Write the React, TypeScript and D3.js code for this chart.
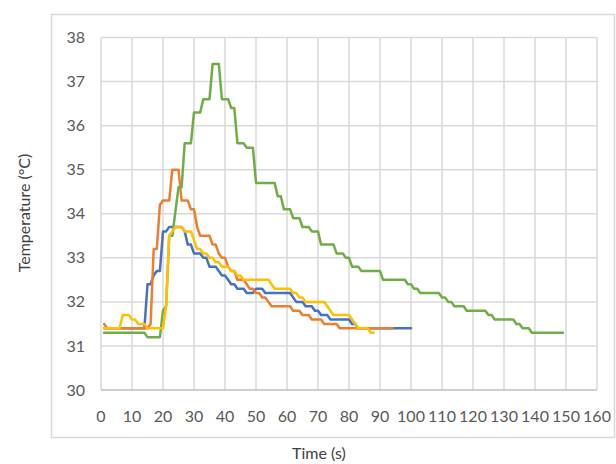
import React from "react";
import * as d3 from "d3";

type Pt = [number, number];

const xTicks = [0, 10, 20, 30, 40, 50, 60, 70, 80, 90, 100, 110, 120, 130, 140, 150, 160];
const yTicks = [30, 31, 32, 33, 34, 35, 36, 37, 38];

const blueSeries: Pt[] = [
  [1, 31.4], [14, 31.4], [15, 32.4], [16, 32.4], [17, 32.6], [18, 32.7], [19, 32.7], [20, 33.6], [21, 33.6],
  [22, 33.7], [26, 33.7], [27, 33.6], [28, 33.3], [29, 33.3], [30, 33.1], [32, 33.1], [33, 33.0], [34, 33.0],
  [35, 32.8], [37, 32.8], [38, 32.7], [39, 32.6], [40, 32.6], [41, 32.5], [42, 32.4], [43, 32.4], [44, 32.3],
  [46, 32.3], [47, 32.2], [49, 32.2], [50, 32.3], [52, 32.3], [53, 32.2], [61, 32.2], [62, 32.1], [63, 32.0],
  [65, 32.0], [66, 31.9], [68, 31.9], [69, 31.8], [70, 31.8], [71, 31.7], [73, 31.7], [74, 31.6], [80, 31.6],
  [81, 31.5], [82, 31.5], [83, 31.4], [100, 31.4],
];

const orangeSeries: Pt[] = [
  [1, 31.5], [2, 31.4], [15, 31.4], [16, 31.5], [17, 33.2], [18, 33.2], [19, 34.2], [20, 34.3], [22, 34.3],
  [23, 35.0], [25, 35.0], [26, 34.3], [28, 34.3], [29, 34.1], [30, 34.1], [31, 33.7], [32, 33.5], [35, 33.5],
  [36, 33.3], [37, 33.3], [38, 33.1], [39, 33.0], [40, 33.0], [41, 32.8], [42, 32.7], [43, 32.7], [44, 32.5],
  [46, 32.5], [47, 32.4], [48, 32.3], [49, 32.3], [50, 32.2], [51, 32.2], [52, 32.1], [53, 32.1], [54, 32.0],
  [55, 31.9], [61, 31.9], [62, 31.8], [64, 31.8], [65, 31.7], [67, 31.7], [68, 31.6], [71, 31.6], [72, 31.5],
  [76, 31.5], [77, 31.4], [94, 31.4],
];

const greenSeries: Pt[] = [
  [1, 31.3], [14, 31.3], [15, 31.2], [19, 31.2], [20, 31.8], [21, 31.9], [22, 33.5], [23, 33.5], [25, 34.6],
  [26, 34.6], [27, 35.6], [29, 35.6], [30, 36.3], [32, 36.3], [33, 36.6], [35, 36.6], [36, 37.4], [38, 37.4],
  [39, 36.6], [41, 36.6], [42, 36.4], [43, 36.4], [44, 35.6], [46, 35.6], [47, 35.5], [49, 35.5], [50, 34.7],
  [56, 34.7], [57, 34.4], [58, 34.4], [59, 34.1], [61, 34.1], [62, 33.9], [64, 33.9], [65, 33.7], [67, 33.7],
  [68, 33.6], [70, 33.6], [71, 33.3], [75, 33.3], [76, 33.1], [78, 33.1], [79, 33.0], [80, 33.0], [81, 32.8],
  [83, 32.8], [84, 32.7], [90, 32.7], [91, 32.5], [98, 32.5], [99, 32.4], [100, 32.4], [101, 32.3], [102, 32.3],
  [103, 32.2], [109, 32.2], [110, 32.1], [111, 32.1], [112, 32.0], [113, 32.0], [114, 31.9], [117, 31.9],
  [118, 31.8], [124, 31.8], [125, 31.7], [126, 31.7], [127, 31.6], [133, 31.6], [134, 31.5], [135, 31.5],
  [136, 31.4], [138, 31.4], [139, 31.3], [149, 31.3],
];

const yellowSeries: Pt[] = [
  [1, 31.4], [6, 31.4], [7, 31.7], [9, 31.7], [10, 31.6], [11, 31.6], [12, 31.5], [14, 31.5], [15, 31.4],
  [20, 31.4], [21, 31.9], [22, 33.5], [23, 33.6], [24, 33.7], [26, 33.7], [27, 33.6], [29, 33.6], [30, 33.4],
  [31, 33.2], [32, 33.2], [33, 33.1], [34, 33.1], [35, 33.0], [36, 33.0], [37, 32.9], [38, 32.9], [39, 32.8],
  [41, 32.8], [42, 32.7], [43, 32.7], [44, 32.6], [45, 32.6], [46, 32.5], [54, 32.5], [55, 32.4], [56, 32.3],
  [61, 32.3], [62, 32.2], [63, 32.2], [64, 32.1], [65, 32.1], [66, 32.0], [72, 32.0], [73, 31.9], [74, 31.8],
  [75, 31.7], [80, 31.7], [81, 31.6], [82, 31.5], [83, 31.4], [86, 31.4], [87, 31.3], [88, 31.3],
];

const seriesList = [
  { name: "blue", data: blueSeries, color: "#4472C4" },
  { name: "orange", data: orangeSeries, color: "#ED7D31" },
  { name: "green", data: greenSeries, color: "#70AD47" },
  { name: "yellow", data: yellowSeries, color: "#FFC000" },
];

export default function App() {
  const W = 616;
  const H = 464;
  const x = d3.scaleLinear().domain([0, 160]).range([101, 597]);
  const y = d3.scaleLinear().domain([30, 38]).range([390, 37.5]);
  const line = d3
    .line<Pt>()
    .x((d) => x(d[0]))
    .y((d) => y(d[1]))
    .curve(d3.curveLinear);
  const font = "Lato, 'Open Sans', sans-serif";

  return (
    <svg
      width={W}
      height={H}
      style={{ position: "absolute", left: 0, top: 0, background: "#fff" }}
      fontFamily={font}
    >
      <rect x={51.5} y={14.5} width={563} height={423} fill="#fff" stroke="#d9d9d9" strokeWidth={1.5} />
      {yTicks.map((t) => (
        <line key={"h" + t} x1={x(0)} x2={x(160)} y1={y(t)} y2={y(t)} stroke="#d9d9d9" strokeWidth={1.5} />
      ))}
      {xTicks.map((t) => (
        <line key={"v" + t} x1={x(t)} x2={x(t)} y1={y(30)} y2={y(38)} stroke="#d9d9d9" strokeWidth={1.5} />
      ))}
      <line x1={x(0)} x2={x(160)} y1={y(30)} y2={y(30)} stroke="#c8c8c8" strokeWidth={1.5} />
      {yTicks.map((t) => (
        <text key={"yl" + t} x={85} y={y(t)} dy="0.35em" textAnchor="end" fontSize={16} fill="#595959">
          {t}
        </text>
      ))}
      {xTicks.map((t) => (
        <text key={"xl" + t} x={x(t)} y={416} dy="0.35em" textAnchor="middle" fontSize={16} fill="#595959">
          {t}
        </text>
      ))}
      {seriesList.map((s) => (
        <path
          key={s.name}
          d={line(s.data) || ""}
          fill="none"
          stroke={s.color}
          strokeWidth={2.5}
          strokeLinejoin="round"
          strokeLinecap="round"
        />
      ))}
      <text
        transform={`translate(24,213) rotate(-90)`}
        textAnchor="middle"
        dy="0.35em"
        fontSize={16}
        fill="#404040"
      >
        Temperature (°C)
      </text>
      <text x={319} y={453} textAnchor="middle" dy="0.35em" fontSize={16} fill="#404040">
        Time (s)
      </text>
    </svg>
  );
}
